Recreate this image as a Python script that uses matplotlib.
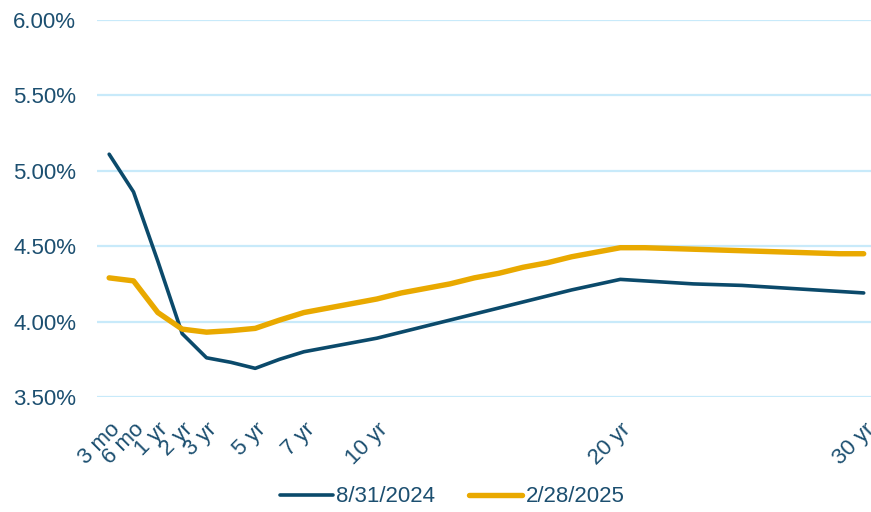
import matplotlib
matplotlib.use("Agg")
import matplotlib.pyplot as plt

plt.rcParams['font.family'] = ['Liberation Sans', 'DejaVu Sans']

# maturities on a category axis (3 mo, 6 mo, then every year out to 30)
maturities = ["3 mo", "6 mo"] + [f"{y} yr" for y in range(1, 31)]
shown_labels = ["3 mo", "6 mo", "1 yr", "2 yr", "3 yr", "5 yr", "7 yr", "10 yr", "20 yr", "30 yr"]

# yields in percent
yields_aug_2024 = [5.11, 4.86, 4.40, 3.92, 3.76, 3.73, 3.69, 3.75, 3.80, 3.83, 3.86, 3.89,
                   3.93, 3.97, 4.01, 4.05, 4.09, 4.13, 4.17, 4.21, 4.245, 4.28,
                   4.27, 4.26, 4.25, 4.245, 4.24, 4.23, 4.22, 4.21, 4.20, 4.19]
yields_feb_2025 = [4.29, 4.27, 4.06, 3.95, 3.93, 3.94, 3.955, 4.01, 4.06, 4.09, 4.12, 4.15,
                   4.19, 4.22, 4.25, 4.29, 4.32, 4.36, 4.39, 4.43, 4.46, 4.49,
                   4.49, 4.485, 4.48, 4.475, 4.47, 4.465, 4.46, 4.455, 4.45, 4.45]

dark = "#0b4a6b"
gold = "#e9a900"
text_col = "#1c4f70"

fig = plt.figure(figsize=(8.71, 5.12), dpi=100)
ax = fig.add_axes([97 / 871, 1 - 397 / 512, 1 - 97 / 871, (397 - 20) / 512])

x = list(range(len(maturities)))
ax.plot(x, yields_aug_2024, color=dark, lw=2.6, label="8/31/2024", solid_capstyle="round")
ax.plot(x, yields_feb_2025, color=gold, lw=3.9, label="2/28/2025", solid_capstyle="round")

ax.set_ylim(3.5, 6.0)
ax.set_yticks([3.5, 4.0, 4.5, 5.0, 5.5, 6.0])
ax.set_yticklabels([f"{v:.2f}%" for v in [3.5, 4.0, 4.5, 5.0, 5.5, 6.0]])
ax.set_xlim(-0.5, 31.3)

tick_pos = [maturities.index(m) for m in shown_labels]
ax.set_xticks(tick_pos)
ax.set_xticklabels(shown_labels, rotation=45, ha="right", rotation_mode="anchor")

ax.grid(axis="y", color="#c8eafa", lw=1.6)
ax.set_axisbelow(True)
for s in ax.spines.values():
    s.set_visible(False)
ax.tick_params(axis="y", length=0, pad=15, labelsize=16, labelcolor=text_col)
ax.tick_params(axis="x", length=0, pad=16, labelsize=16, labelcolor=text_col)

fig.legend(loc="center", bbox_to_anchor=(452 / 871, 1 - 497 / 512), ncol=2, frameon=False,
           fontsize=16, labelcolor=text_col, handlelength=2.4, handletextpad=0.15,
           columnspacing=1.5, borderaxespad=0)

fig.savefig("out.png", dpi=100)
